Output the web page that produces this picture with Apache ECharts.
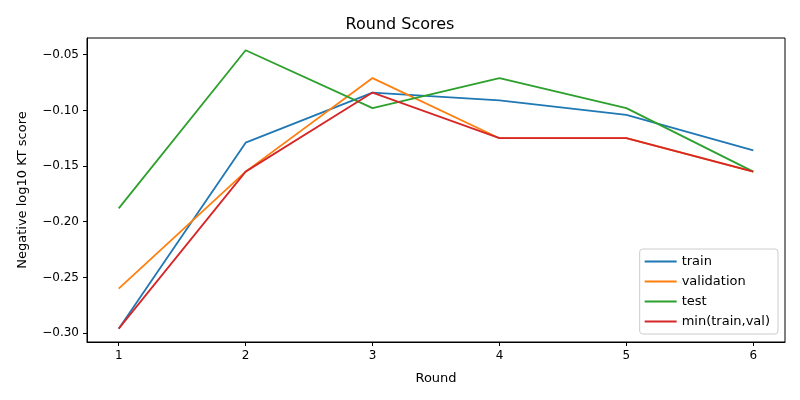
<!DOCTYPE html>
<html><head><meta charset="utf-8">
<script src="https://cdn.jsdelivr.net/npm/echarts@6/dist/echarts.min.js"></script>
<style>html,body{margin:0;padding:0;background:#fff}#c{width:800px;height:400px}</style>
</head><body><div id="c"></div>
<script>
const rounds = [1, 2, 3, 4, 5, 6];
const train = [-0.296, -0.129, -0.084, -0.091, -0.104, -0.136];
const validation = [-0.260, -0.155, -0.071, -0.125, -0.125, -0.155];
const test = [-0.188, -0.046, -0.098, -0.071, -0.098, -0.155];
const minTrainVal = [-0.296, -0.155, -0.084, -0.125, -0.125, -0.155];
const yTicks = [-0.30, -0.25, -0.20, -0.15, -0.10, -0.05];
const names = ['train', 'validation', 'test', 'min(train,val)'];
const colors = ['#1f77b4', '#ff7f0e', '#2ca02c', '#d62728'];
const all = [train, validation, test, minTrainVal];
const font = 'DejaVu Sans';
const chart = echarts.init(document.getElementById('c'));
chart.setOption({
  animation: false,
  textStyle: {fontFamily: font},
  title: {text: 'Round Scores', left: 'center', top: 12, textStyle: {fontFamily: font, fontSize: 16, fontWeight: 'normal', color: '#000'}},
  grid: {left: 87, right: 15, top: 38, bottom: 58, show: true, borderColor: '#000', borderWidth: 1},
  legend: {orient: 'vertical', right: 22, bottom: 66, itemWidth: 32, itemHeight: 2, itemGap: 7,
    padding: [6, 8, 6, 5], borderColor: '#ccc', borderWidth: 1, borderRadius: 3, backgroundColor: '#fff',
    textStyle: {fontFamily: font, fontSize: 13, color: '#000'}, icon: 'rect', data: names},
  xAxis: {type: 'value', min: 0.75, max: 6.25, name: 'Round', nameLocation: 'middle', nameGap: 30,
    nameTextStyle: {fontFamily: font, fontSize: 13, color: '#000'},
    splitLine: {show: false},
    axisLine: {lineStyle: {color: '#000'}},
    axisTick: {customValues: rounds, length: 4, lineStyle: {color: '#000'}},
    axisLabel: {customValues: rounds, color: '#000', fontSize: 12, fontFamily: font}},
  yAxis: {type: 'value', min: -0.308, max: -0.035, name: 'Negative log10 KT score', nameLocation: 'middle', nameGap: 58,
    nameTextStyle: {fontFamily: font, fontSize: 13, color: '#000'},
    splitLine: {show: false},
    axisLine: {show: true, lineStyle: {color: '#000'}},
    axisTick: {show: true, customValues: yTicks, length: 4, lineStyle: {color: '#000'}},
    axisLabel: {customValues: yTicks, color: '#000', fontSize: 12, fontFamily: font,
      formatter: v => (v < 0 ? '\u2212' : '') + Math.abs(v).toFixed(2)}},
  series: all.map((d, i) => ({name: names[i], type: 'line', symbol: 'none', color: colors[i],
    lineStyle: {width: 1.8, color: colors[i]}, data: rounds.map((r, j) => [r, d[j]])}))
});
</script></body></html>
